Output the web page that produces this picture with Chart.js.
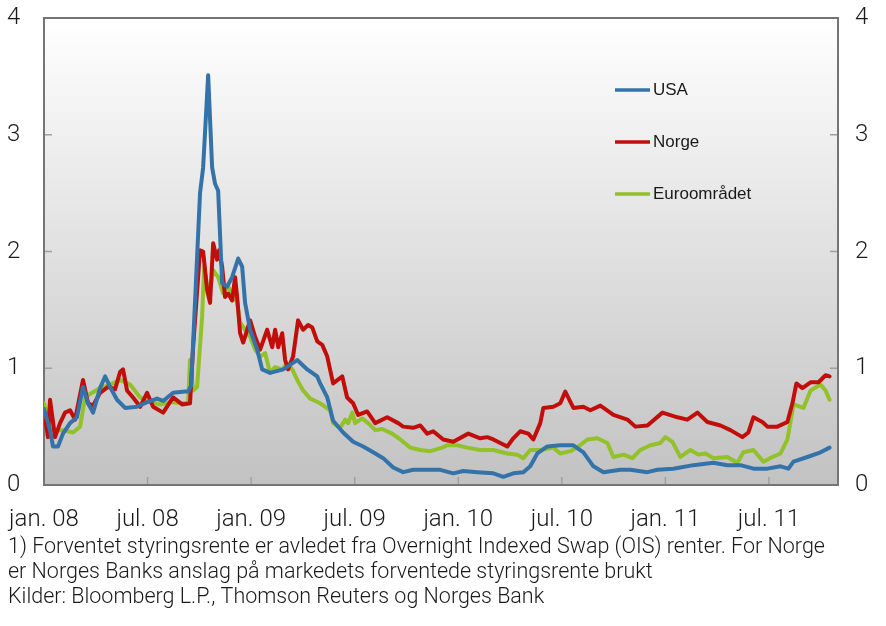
<!DOCTYPE html>
<html>
<head>
<meta charset="utf-8">
<script src="https://cdn.jsdelivr.net/npm/chart.js@4.4.1/dist/chart.umd.min.js"></script>
<style>
  body { margin: 0; background: #fff; }
</style>
</head>
<body>
<canvas id="chart" width="886" height="626"></canvas>
<script>
// months since jan. 08
const xLabels = ["jan. 08", "jul. 08", "jan. 09", "jul. 09", "jan. 10", "jul. 10", "jan. 11", "jul. 11"];
const yTicks = [0, 1, 2, 3, 4];

const usaMonths = [0,0.35,0.52,0.81,1.10,1.51,1.91,2.26,2.55,2.84,3.25,3.54,3.83,4.23,4.70,5.39,5.97,6.55,6.90,7.48,8.17,8.35,8.52,8.64,9.04,9.22,9.51,9.74,9.91,10.09,10.32,10.61,10.90,11.25,11.48,11.65,11.94,12.35,12.64,13.10,13.86,14.67,15.25,15.83,16.00,16.41,16.75,17.33,17.91,18.49,19.07,19.65,20.23,20.81,21.39,22.20,22.96,23.71,24.29,25.10,26.03,26.61,27.19,27.77,28.17,28.58,29.16,29.91,30.67,31.25,31.83,32.41,33.39,33.97,34.96,35.54,36.46,37.62,38.78,39.59,40.35,41.10,41.91,42.67,43.13,43.42,44.23,44.99,45.51];
const usaValues = [0.65,0.47,0.33,0.33,0.44,0.53,0.58,0.84,0.70,0.62,0.83,0.93,0.84,0.73,0.66,0.67,0.71,0.74,0.72,0.79,0.80,0.80,0.85,1.22,2.50,2.72,3.51,2.72,2.58,2.52,1.73,1.70,1.78,1.94,1.87,1.56,1.33,1.16,0.99,0.96,0.99,1.07,0.99,0.93,0.87,0.75,0.55,0.45,0.37,0.33,0.28,0.23,0.15,0.11,0.13,0.13,0.13,0.10,0.12,0.11,0.10,0.07,0.10,0.11,0.16,0.27,0.33,0.34,0.34,0.28,0.16,0.11,0.13,0.13,0.11,0.13,0.14,0.17,0.19,0.17,0.17,0.14,0.14,0.16,0.14,0.20,0.24,0.28,0.32];

const norgeMonths = [0,0.23,0.35,0.64,0.93,1.22,1.51,1.80,2.26,2.55,2.84,3.25,3.71,4.12,4.41,4.58,4.81,5.16,5.57,5.97,6.32,6.90,7.48,8.00,8.46,8.64,9.04,9.22,9.45,9.62,9.80,10.03,10.14,10.32,10.49,10.67,10.90,11.07,11.19,11.36,11.54,11.94,12.23,12.52,12.93,13.22,13.39,13.57,13.80,13.97,14.14,14.43,14.72,15.01,15.30,15.54,15.83,16.12,16.41,16.75,17.28,17.56,17.91,18.20,18.72,19.19,19.88,20.52,20.81,21.39,21.80,22.20,22.55,23.13,23.71,24.58,25.27,25.68,26.03,26.84,27.19,27.59,28.06,28.35,28.75,28.93,29.51,29.91,30.20,30.67,31.25,31.65,32.23,32.99,33.80,34.26,34.96,35.83,36.70,37.27,37.86,38.43,39.19,39.77,40.46,40.81,41.10,41.62,41.91,42.49,43.07,43.36,43.59,43.94,44.41,44.87,45.28,45.51];
const norgeValues = [0.64,0.41,0.73,0.41,0.53,0.62,0.64,0.56,0.90,0.70,0.68,0.79,0.84,0.82,0.97,0.99,0.81,0.75,0.67,0.79,0.67,0.62,0.75,0.69,0.70,1.18,2.01,2.00,1.67,1.56,2.07,1.93,2.01,1.87,1.61,1.64,1.58,1.78,1.61,1.30,1.22,1.41,1.27,1.16,1.33,1.18,1.33,1.18,1.30,1.07,0.99,1.10,1.41,1.33,1.37,1.35,1.23,1.20,1.10,0.87,0.93,0.75,0.70,0.60,0.63,0.53,0.58,0.53,0.50,0.49,0.51,0.44,0.46,0.39,0.37,0.44,0.40,0.41,0.39,0.33,0.40,0.46,0.44,0.39,0.53,0.66,0.67,0.70,0.80,0.66,0.67,0.64,0.68,0.60,0.56,0.50,0.51,0.62,0.58,0.56,0.62,0.54,0.51,0.47,0.41,0.45,0.58,0.54,0.50,0.50,0.54,0.70,0.87,0.83,0.88,0.88,0.94,0.93];

const euroMonths = [0,0.52,1.10,1.68,2.09,2.38,2.67,3.25,3.83,4.41,4.99,5.57,6.14,6.72,7.30,8.06,8.35,8.46,8.64,8.87,9.16,9.28,9.45,9.62,9.80,10.09,10.38,10.67,10.90,11.19,11.36,11.65,11.94,12.23,12.52,12.81,13.10,13.39,13.80,14.09,14.38,14.67,15.01,15.42,16.00,16.58,16.75,17.16,17.45,17.62,17.86,18.03,18.43,18.78,19.19,19.59,20.17,20.64,21.22,21.80,22.38,23.07,23.36,23.94,24.52,25.27,26.03,26.84,27.42,27.77,28.17,28.75,29.51,29.91,30.49,30.96,31.48,32.06,32.64,32.99,33.57,34.09,34.55,35.13,35.71,36.00,36.41,36.87,37.45,37.91,38.32,38.78,39.59,40.17,40.52,41.10,41.68,42.20,42.67,43.07,43.42,44.00,44.41,44.99,45.28,45.51];
const euroValues = [0.70,0.47,0.47,0.45,0.50,0.75,0.78,0.83,0.86,0.90,0.86,0.75,0.71,0.69,0.71,0.70,0.70,1.07,0.81,0.84,1.44,1.87,1.70,1.67,1.84,1.78,1.64,1.70,1.64,1.56,1.39,1.33,1.27,1.16,1.10,1.13,0.96,1.01,0.99,1.04,0.99,0.90,0.81,0.74,0.70,0.64,0.53,0.49,0.56,0.53,0.62,0.53,0.57,0.53,0.47,0.48,0.44,0.39,0.32,0.30,0.29,0.32,0.34,0.34,0.32,0.30,0.30,0.27,0.26,0.23,0.30,0.30,0.32,0.27,0.29,0.33,0.39,0.40,0.36,0.24,0.26,0.23,0.30,0.34,0.36,0.41,0.37,0.24,0.30,0.26,0.27,0.23,0.24,0.19,0.28,0.30,0.20,0.24,0.27,0.39,0.69,0.66,0.81,0.86,0.81,0.73];

const footnote = [
  "1) Forventet styringsrente er avledet fra Overnight Indexed Swap (OIS) renter. For Norge",
  "er Norges Banks anslag på markedets forventede styringsrente brukt",
  "Kilder: Bloomberg L.P., Thomson Reuters og Norges Bank"
];

const textFont = "Roboto, 'Liberation Sans', Arial, sans-serif";

function toPoints(months, values) {
  return months.map((m, i) => ({ x: m, y: values[i] }));
}

const series = [
  { label: "USA", color: "#3473aa", data: toPoints(usaMonths, usaValues) },
  { label: "Norge", color: "#c20e0a", data: toPoints(norgeMonths, norgeValues) },
  { label: "Euroområdet", color: "#93c12a", data: toPoints(euroMonths, euroValues) }
];

const backgroundPlugin = {
  id: "background",
  beforeDatasetsDraw(chart) {
    const { ctx, chartArea: a } = chart;
    const g = ctx.createLinearGradient(0, a.top, 0, a.bottom);
    g.addColorStop(0, "#ffffff");
    g.addColorStop(1, "#c2c2c2");
    ctx.save();
    ctx.fillStyle = g;
    ctx.fillRect(a.left, a.top, a.right - a.left, a.bottom - a.top);

    // small inward ticks
    ctx.strokeStyle = "#a0a0a0";
    ctx.lineWidth = 1.5;
    const yS = chart.scales.y;
    const xS = chart.scales.x;
    ctx.beginPath();
    [1, 2, 3].forEach(v => {
      const py = yS.getPixelForValue(v);
      ctx.moveTo(a.left, py); ctx.lineTo(a.left + 8, py);
      ctx.moveTo(a.right, py); ctx.lineTo(a.right - 8, py);
    });
    for (let i = 1; i < xLabels.length; i++) {
      const px = xS.getPixelForValue(i * 6);
      ctx.moveTo(px, a.bottom); ctx.lineTo(px, a.bottom - 8);
    }
    ctx.stroke();

    ctx.strokeStyle = "#757575";
    ctx.lineWidth = 2;
    ctx.strokeRect(a.left, a.top, a.right - a.left, a.bottom - a.top);
    ctx.restore();
  }
};

const legendPlugin = {
  id: "customLegend",
  afterDatasetsDraw(chart) {
    const ctx = chart.ctx;
    ctx.save();
    ctx.font = "17px 'Liberation Sans', Arial, sans-serif";
    ctx.textBaseline = "middle";
    series.forEach((s, i) => {
      const y = 90 + i * 52;
      ctx.strokeStyle = s.color;
      ctx.lineWidth = 3.5;
      ctx.beginPath();
      ctx.moveTo(615, y);
      ctx.lineTo(650, y);
      ctx.stroke();
      ctx.fillStyle = "#1a1a1a";
      ctx.fillText(s.label, 653, y);
    });
    ctx.restore();
  }
};

const footnotePlugin = {
  id: "footnote",
  afterDraw(chart) {
    const ctx = chart.ctx;
    ctx.save();
    ctx.font = "300 21.5px " + textFont;
    ctx.fillStyle = "#1a1a1a";
    ctx.textBaseline = "middle";
    footnote.forEach((line, i) => ctx.fillText(line, 8, 548 + i * 25));
    ctx.restore();
  }
};

function noPadding(scale) {
  scale.paddingLeft = 0;
  scale.paddingRight = 0;
  scale.paddingTop = 0;
  scale.paddingBottom = 0;
}

new Chart(document.getElementById("chart"), {
  type: "line",
  data: {
    datasets: series.map(s => ({
      label: s.label,
      data: s.data,
      borderColor: s.color,
      borderWidth: 4,
      pointRadius: 0,
      tension: 0,
      borderJoinStyle: "round",
      borderCapStyle: "round",
      yAxisID: "y"
    }))
  },
  options: {
    responsive: false,
    animation: false,
    devicePixelRatio: 1,
    layout: { padding: { left: 7, top: 18, right: 0, bottom: 93 } },
    plugins: { legend: { display: false }, tooltip: { enabled: false } },
    scales: {
      x: {
        type: "linear",
        min: 0,
        max: 46,
        grid: { display: false },
        border: { display: false },
        afterBuildTicks: scale => { scale.ticks = xLabels.map((_, i) => ({ value: i * 6 })); },
        afterFit: scale => { scale.height = 48; noPadding(scale); },
        ticks: {
          autoSkip: false,
          maxRotation: 0,
          padding: 13,
          color: "#1a1a1a",
          font: { family: textFont, size: 24, weight: "300" },
          callback: v => xLabels[Math.round(v / 6)]
        }
      },
      y: {
        position: "left",
        min: 0,
        max: 4,
        grid: { display: false },
        border: { display: false },
        afterBuildTicks: scale => { scale.ticks = yTicks.map(v => ({ value: v })); },
        afterFit: scale => { scale.width = 37; noPadding(scale); },
        ticks: {
          crossAlign: "far",
          color: "#1a1a1a",
          font: { family: textFont, size: 24, weight: "300" }
        }
      },
      y2: {
        position: "right",
        min: 0,
        max: 4,
        grid: { display: false },
        border: { display: false },
        afterBuildTicks: scale => { scale.ticks = yTicks.map(v => ({ value: v })); },
        afterFit: scale => { scale.width = 48; noPadding(scale); },
        ticks: {
          padding: 9,
          color: "#1a1a1a",
          font: { family: textFont, size: 24, weight: "300" }
        }
      }
    }
  },
  plugins: [backgroundPlugin, legendPlugin, footnotePlugin]
});
</script>
</body>
</html>
